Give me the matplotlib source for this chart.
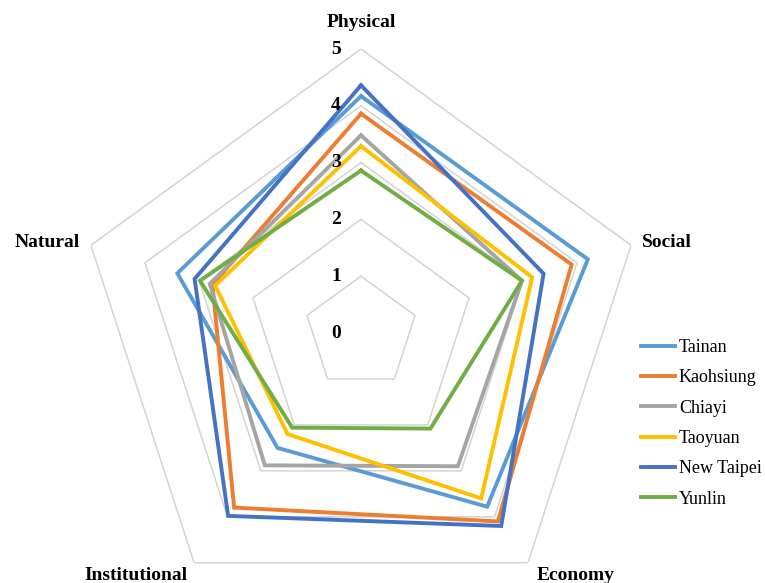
import numpy as np
import matplotlib
matplotlib.use("Agg")
import matplotlib.pyplot as plt

categories = ['Physical', 'Social', 'Economy', 'Institutional', 'Natural']
series_names = ['Tainan', 'Kaohsiung', 'Chiayi', 'Taoyuan', 'New Taipei', 'Yunlin']
tainan = [4.17, 4.20, 3.78, 2.50, 3.40]
kaohsiung = [3.86, 3.90, 4.10, 3.80, 2.75]
chiayi = [3.48, 2.98, 2.90, 2.88, 2.80]
taoyuan = [3.29, 3.17, 3.60, 2.20, 2.70]
new_taipei = [4.36, 3.38, 4.20, 3.98, 3.08]
yunlin = [2.86, 2.98, 2.08, 2.06, 2.98]
series_values = [tainan, kaohsiung, chiayi, taoyuan, new_taipei, yunlin]
rings = [1, 2, 3, 4, 5]
tick_labels = ['0', '1', '2', '3', '4', '5']

colors = ['#5B9BD5', '#ED7D31', '#A5A5A5', '#FFC000', '#4472C4', '#70AD47']
grid_color = '#D4D4D4'
serif = ['Liberation Serif', 'DejaVu Serif']

W, H = 765, 583
fig = plt.figure(figsize=(W / 100, H / 100), dpi=100)
cx, cy, R = 361, 333, 284  # pixel centre and outer radius
ax = fig.add_axes([(cx - R) / W, (H - cy - R) / H, 2 * R / W, 2 * R / H], projection='polar')
ax.set_theta_offset(np.pi / 2)
ax.set_theta_direction(-1)
ax.set_ylim(0, 5)
ax.grid(False)
ax.spines['polar'].set_visible(False)
ax.set_xticks([])
ax.set_yticks([])
ax.patch.set_alpha(0)

n = len(categories)
theta = np.linspace(0, 2 * np.pi, n, endpoint=False)
theta_closed = np.concatenate([theta, theta[:1]])

for r in rings:
    ax.plot(theta_closed, [r] * (n + 1), color=grid_color, lw=1.1, zorder=1)

for name, vals, c in zip(series_names, series_values, colors):
    v = list(vals) + [vals[0]]
    ax.plot(theta_closed, v, color=c, lw=2.8, label=name, zorder=3,
            solid_joinstyle='miter')

# radial value labels
for i, t in enumerate(tick_labels):
    ax.annotate(t, xy=(0, i), xytext=(-18, 0), textcoords='offset points',
                ha='center', va='center', fontsize=14, fontweight='bold',
                family=serif, annotation_clip=False)

# category labels
offsets = [((0, 19), 'center'), ((8, 2), 'left'), ((34, -9), 'center'),
           ((-42, -9), 'center'), ((-8, 2), 'right')]
for th, cat, (off, ha) in zip(theta, categories, offsets):
    ax.annotate(cat, xy=(th, 5), xytext=off, textcoords='offset points',
                ha=ha, va='center', fontsize=14, fontweight='bold',
                family=serif, annotation_clip=False)

fig.legend(loc='upper left', bbox_to_anchor=(641 / W, 1 - 339 / H),
           frameon=False, prop={'family': serif, 'size': 13},
           handlelength=1.9, handletextpad=0.2, labelspacing=0.74,
           borderaxespad=0, borderpad=0)

fig.savefig('out.png', dpi=100)
